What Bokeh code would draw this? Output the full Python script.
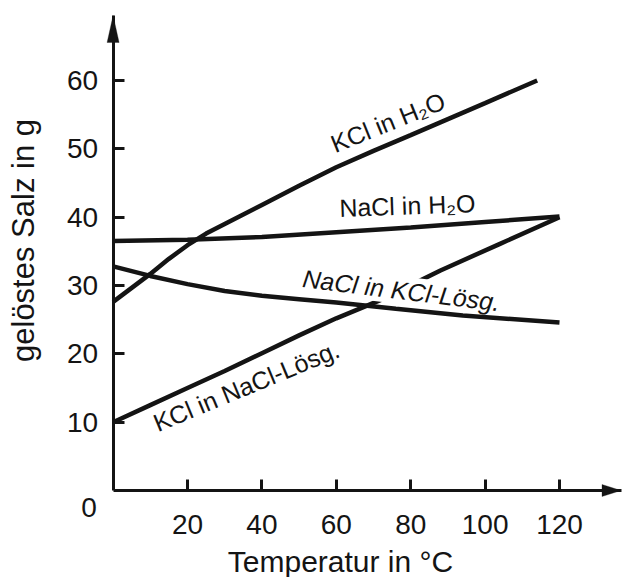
import math
from bokeh.plotting import figure
from bokeh.models import Range1d, FixedTicker, Label, PolyAnnotation
from bokeh.embed import file_html
from bokeh.resources import INLINE

# ---- data ----
x_ticks = [20, 40, 60, 80, 100, 120]
y_ticks = [10, 20, 30, 40, 50, 60]

temp_kcl_h2o = [0, 10, 15, 20, 25, 30, 40, 50, 60, 70, 80, 100, 114]
kcl_h2o = [27.6, 31.7, 33.9, 35.9, 37.6, 39.0, 41.8, 44.6, 47.3, 49.7, 52.0, 56.7, 60.0]

temp_nacl_h2o = [0, 20, 40, 60, 80, 100, 120]
nacl_h2o = [36.5, 36.7, 37.1, 37.8, 38.5, 39.3, 40.1]

temp_kcl_nacl = [0, 10, 20, 30, 40, 50, 60, 72, 88, 104, 120]
kcl_nacl = [10.0, 12.5, 15.0, 17.5, 20.1, 22.7, 25.2, 27.9, 32.2, 36.1, 40.0]

temp_nacl_kcl = [0, 10, 20, 30, 40, 50, 60, 76, 94, 120]
nacl_kcl = [32.8, 31.4, 30.2, 29.2, 28.5, 28.0, 27.5, 26.6, 25.6, 24.6]

x_title = "Temperatur in °C"
y_title = "gelöstes Salz in g"
lbl_kcl_h2o = "KCl in H₂O"
lbl_nacl_h2o = "NaCl in H₂O"
lbl_nacl_kcl = "NaCl in KCl-Lösg."
lbl_kcl_nacl = "KCl in NaCl-Lösg."

# ---- layout (frame fills the canvas; axes sit at data 0) ----
W, H = 623, 577
ORIGIN_X, ORIGIN_Y = 112.6, 490.0      # pixel position of (0, 0), y from top
PX_X, PX_Y = 3.72, 6.833               # pixels per unit
X_START, X_STOP = -ORIGIN_X / PX_X, (W - ORIGIN_X) / PX_X
Y_START, Y_STOP = -(H - ORIGIN_Y) / PX_Y, ORIGIN_Y / PX_Y
X_AXIS_END = (620.5 - ORIGIN_X) / PX_X
Y_AXIS_END = (ORIGIN_Y - 15) / PX_Y

INK = "#141414"
FONT = "Liberation Sans"

p = figure(width=W, height=H, output_backend="svg", toolbar_location=None,
           x_range=Range1d(X_START, X_STOP), y_range=Range1d(Y_START, Y_STOP),
           min_border=0)
p.background_fill_color = "white"
p.border_fill_color = "white"
p.outline_line_color = None
p.grid.visible = False

for ax, ticks, standoff, bounds in ((p.xaxis[0], x_ticks, 24, (0, X_AXIS_END)),
                                    (p.yaxis[0], y_ticks, 15, (0, Y_AXIS_END))):
    ax.fixed_location = 0
    ax.bounds = bounds
    ax.ticker = FixedTicker(ticks=ticks)
    ax.axis_line_width = 3
    ax.axis_line_color = INK
    ax.major_tick_in = 11
    ax.major_tick_out = 0
    ax.major_tick_line_width = 3
    ax.major_tick_line_color = INK
    ax.minor_tick_line_color = None
    ax.major_label_text_font = FONT
    ax.major_label_text_font_size = "28px"
    ax.major_label_text_color = INK
    ax.major_label_standoff = standoff

LW = 4.5
p.line(temp_kcl_h2o, kcl_h2o, line_width=LW, line_color=INK)
p.line(temp_nacl_h2o, nacl_h2o, line_width=LW, line_color=INK)
p.line(temp_kcl_nacl, kcl_nacl, line_width=LW, line_color=INK)
r_top = p.line(temp_nacl_kcl, nacl_kcl, line_width=LW, line_color=INK)
r_top.level = "overlay"

# arrow heads at the axis ends
hx_len, hx_half = 19 / PX_X, 6 / PX_Y
p.add_layout(PolyAnnotation(xs=[X_AXIS_END, X_AXIS_END - hx_len, X_AXIS_END - hx_len],
                            ys=[0, hx_half, -hx_half],
                            fill_color=INK, fill_alpha=1, line_color=INK, line_width=1))
hy_len, hy_half = 27 / PX_Y, 6 / PX_X
p.add_layout(PolyAnnotation(xs=[0, -hy_half, hy_half],
                            ys=[Y_AXIS_END, Y_AXIS_END - hy_len, Y_AXIS_END - hy_len],
                            fill_color=INK, fill_alpha=1, line_color=INK, line_width=1))


def lab(text, x, y, angle_deg=0.0, size="25px", style="normal", bg=None):
    l = Label(x=x, y=y, text=text, angle=math.radians(angle_deg),
              text_font=FONT, text_font_size=size, text_color=INK,
              text_font_style=style, text_align="center", text_baseline="middle",
              background_fill_color=bg)
    p.add_layout(l)
    return l


lab(lbl_kcl_h2o, 73.9, 53.9, 22)
lab(lbl_nacl_h2o, 79.1, 41.7, 2)
lab(lbl_nacl_kcl, 77.5, 29.3, -7, style="italic", bg="white")
lab(lbl_kcl_nacl, 35.8, 15.3, 22.5)

# axis titles and the lone "0"
lab(x_title, (340 - ORIGIN_X) / PX_X, (ORIGIN_Y - 561) / PX_Y, 0, size="30px")
lab(y_title, (23 - ORIGIN_X) / PX_X, (ORIGIN_Y - 240) / PX_Y, 90, size="31px")
lab("0", (88.5 - ORIGIN_X) / PX_X, (ORIGIN_Y - 507) / PX_Y, 0, size="28px")

open("out.html", "w").write(file_html(p, INLINE))
